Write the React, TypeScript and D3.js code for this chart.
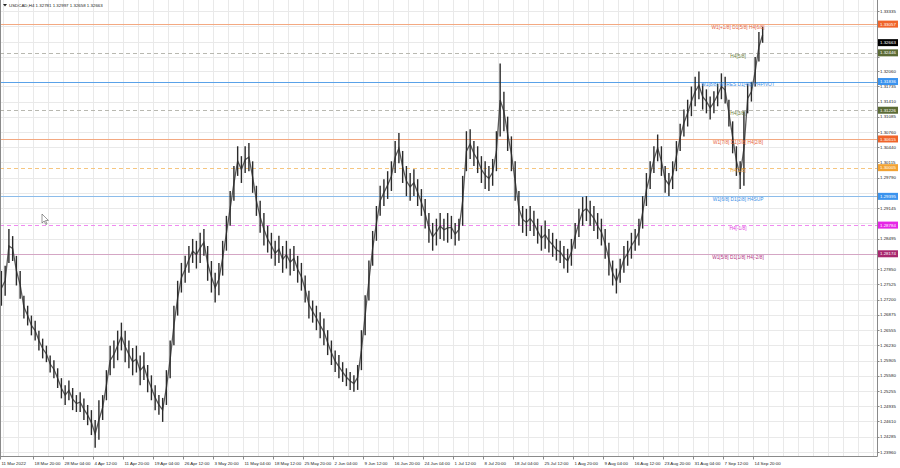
import React from "react";
import * as d3 from "d3";

const W = 900;
const H = 468;

// USDCAD H4, each entry aggregates four consecutive H4 bars (16 hours)
const highs = [
  1.2781, 1.2792, 1.2870, 1.2855, 1.2813, 1.2781, 1.2728, 1.2707, 1.2686, 1.2675,
  1.2654, 1.2637, 1.2622, 1.2601, 1.2591, 1.2574, 1.2553, 1.2538, 1.2548, 1.2532,
  1.2517, 1.2523, 1.2510, 1.2496, 1.2485, 1.2464, 1.2506, 1.2517, 1.2570, 1.2622,
  1.2633, 1.2654, 1.2671, 1.2654, 1.2633, 1.2617, 1.2622, 1.2601, 1.2608, 1.2581,
  1.2559, 1.2538, 1.2517, 1.2511, 1.2570, 1.2633, 1.2707, 1.2760, 1.2798, 1.2813,
  1.2834, 1.2849, 1.2845, 1.2862, 1.2870, 1.2834, 1.2802, 1.2777, 1.2798, 1.2845,
  1.2898, 1.2951, 1.3004, 1.3046, 1.3025, 1.3046, 1.3053, 1.3014, 1.2962, 1.2930,
  1.2904, 1.2877, 1.2862, 1.2845, 1.2856, 1.2834, 1.2845, 1.2828, 1.2834, 1.2813,
  1.2798, 1.2771, 1.2739, 1.2718, 1.2707, 1.2693, 1.2680, 1.2655, 1.2633, 1.2612,
  1.2602, 1.2587, 1.2574, 1.2566, 1.2559, 1.2581, 1.2655, 1.2729, 1.2803, 1.2866,
  1.2919, 1.2962, 1.2976, 1.2993, 1.3014, 1.3057, 1.3074, 1.3036, 1.3004, 1.2989,
  1.2997, 1.2976, 1.2955, 1.2934, 1.2904, 1.2883, 1.2892, 1.2904, 1.2892, 1.2904,
  1.2898, 1.2883, 1.2892, 1.2983, 1.3078, 1.3082, 1.3057, 1.3046, 1.3025, 1.3014,
  1.3004, 1.3019, 1.3078, 1.3222, 1.3162, 1.3109, 1.3067, 1.3014, 1.2951, 1.2919,
  1.2913, 1.2919, 1.2909, 1.2892, 1.2877, 1.2888, 1.2870, 1.2862, 1.2849, 1.2845,
  1.2834, 1.2828, 1.2849, 1.2883, 1.2913, 1.2938, 1.2940, 1.2930, 1.2919, 1.2904,
  1.2892, 1.2870, 1.2841, 1.2803, 1.2786, 1.2807, 1.2834, 1.2845, 1.2862, 1.2870,
  1.2892, 1.2940, 1.2989, 1.3014, 1.3046, 1.3071, 1.3046, 1.3004, 1.2989, 1.3014,
  1.3057, 1.3094, 1.3124, 1.3145, 1.3173, 1.3194, 1.3205, 1.3179, 1.3167, 1.3152,
  1.3163, 1.3179, 1.3201, 1.3194, 1.3145, 1.3099, 1.3046, 1.3014, 1.3120, 1.3179,
  1.3183, 1.3236, 1.3289, 1.3300,
];
const lows = [
  1.2707, 1.2728, 1.2798, 1.2802, 1.2750, 1.2722, 1.2680, 1.2665, 1.2644, 1.2633,
  1.2612, 1.2595, 1.2587, 1.2565, 1.2553, 1.2532, 1.2510, 1.2496, 1.2506, 1.2485,
  1.2481, 1.2481, 1.2464, 1.2453, 1.2432, 1.2405, 1.2422, 1.2464, 1.2506, 1.2559,
  1.2574, 1.2591, 1.2612, 1.2587, 1.2574, 1.2559, 1.2565, 1.2538, 1.2549, 1.2523,
  1.2506, 1.2485, 1.2475, 1.2460, 1.2496, 1.2553, 1.2623, 1.2686, 1.2735, 1.2756,
  1.2777, 1.2798, 1.2786, 1.2798, 1.2813, 1.2760, 1.2735, 1.2714, 1.2729, 1.2771,
  1.2824, 1.2877, 1.2930, 1.2983, 1.2968, 1.2989, 1.2993, 1.2947, 1.2898, 1.2862,
  1.2835, 1.2820, 1.2807, 1.2792, 1.2798, 1.2777, 1.2786, 1.2771, 1.2781, 1.2756,
  1.2739, 1.2714, 1.2680, 1.2671, 1.2655, 1.2638, 1.2623, 1.2602, 1.2581, 1.2566,
  1.2553, 1.2545, 1.2536, 1.2528, 1.2524, 1.2528, 1.2570, 1.2644, 1.2718, 1.2792,
  1.2845, 1.2898, 1.2919, 1.2934, 1.2951, 1.2989, 1.3010, 1.2968, 1.2940, 1.2930,
  1.2940, 1.2919, 1.2898, 1.2871, 1.2841, 1.2824, 1.2835, 1.2849, 1.2845, 1.2841,
  1.2849, 1.2835, 1.2845, 1.2877, 1.2993, 1.3019, 1.3004, 1.2989, 1.2968, 1.2955,
  1.2951, 1.2962, 1.2993, 1.3067, 1.3078, 1.3036, 1.2993, 1.2930, 1.2877, 1.2862,
  1.2855, 1.2866, 1.2855, 1.2839, 1.2824, 1.2828, 1.2820, 1.2811, 1.2803, 1.2798,
  1.2786, 1.2777, 1.2792, 1.2828, 1.2853, 1.2877, 1.2887, 1.2877, 1.2866, 1.2849,
  1.2835, 1.2807, 1.2771, 1.2750, 1.2733, 1.2756, 1.2777, 1.2792, 1.2807, 1.2824,
  1.2835, 1.2871, 1.2919, 1.2955, 1.2989, 1.3014, 1.2983, 1.2947, 1.2940, 1.2955,
  1.2993, 1.3036, 1.3067, 1.3088, 1.3110, 1.3131, 1.3146, 1.3124, 1.3116, 1.3103,
  1.3116, 1.3131, 1.3146, 1.3137, 1.3088, 1.3031, 1.2983, 1.2955, 1.2962, 1.3116,
  1.3141, 1.3173, 1.3226, 1.3266,
];
const H4_PER_POINT = 4;

const header = "USDCAD,H4  1.32781 1.32997 1.32658 1.32663";
const lastPrice = 1.32663;

const timeLabels = [
  "11 Mar 2022", "18 Mar 20:00", "28 Mar 04:00", "4 Apr 12:00", "11 Apr 20:00",
  "19 Apr 04:00", "26 Apr 12:00", "3 May 20:00", "11 May 04:00", "18 May 12:00",
  "25 May 20:00", "2 Jun 04:00", "9 Jun 12:00", "16 Jun 20:00", "24 Jun 04:00",
  "1 Jul 12:00", "8 Jul 20:00", "18 Jul 04:00", "25 Jul 12:00", "1 Aug 20:00",
  "9 Aug 04:00", "16 Aug 12:00", "23 Aug 20:00", "31 Aug 04:00", "7 Sep 12:00",
  "14 Sep 20:00",
];
// H4 bar index of each time label
const timeLabelBars = [
  0, 35, 67, 99, 131, 163, 195, 227, 259, 291, 323, 355, 387, 419, 451, 483, 515,
  547, 579, 611, 643, 675, 707, 739, 771, 803,
];

const priceTicks = [
  1.33335, 1.3301, 1.32685, 1.3236, 1.3206, 1.31735, 1.3141, 1.31085, 1.3076,
  1.3044, 1.30115, 1.2979, 1.29465, 1.29145, 1.2882, 1.28495, 1.2817, 1.2785,
  1.27525, 1.272, 1.26875, 1.26555, 1.2623, 1.25905, 1.2558, 1.25255, 1.24935,
  1.2461, 1.24285, 1.2396,
];

const levelPrices = [
  1.33057, 1.32446, 1.31836, 1.31226, 1.30615, 1.30005, 1.29395, 1.28784, 1.28174,
];
const levelNames = [
  "W1[+1/8] D1[5/8] H4[6/8]",
  "H4[5/8]",
  "W1[8/8] W1RES D1[4/8] H4PIVOT",
  "H4[3/8]",
  "W1[7/8] D1[3/8] H4[2/8]",
  "H4[1/8]",
  "W1[6/8] D1[2/8] H4SUP",
  "H4[-1/8]",
  "W1[5/8] D1[1/8] H4[-2/8]",
];

const levelStyle = [
  { line: "#f3a982", text: "#e8643a", box: "#f0642a", dash: "" },
  { line: "#b8b8b0", text: "#6b7d3a", box: "#5b6b35", dash: "4,3" },
  { line: "#5aa2e8", text: "#3a8ee6", box: "#3a93ee", dash: "" },
  { line: "#b8b8b0", text: "#6b7d3a", box: "#5b6b35", dash: "4,3" },
  { line: "#f3a982", text: "#e8643a", box: "#f0642a", dash: "" },
  { line: "#f6c680", text: "#e8a030", box: "#f2a232", dash: "4,3" },
  { line: "#8cbcea", text: "#3a8ee6", box: "#3a93ee", dash: "" },
  { line: "#f08af0", text: "#e040e0", box: "#e626e6", dash: "4,3" },
  { line: "#d4a6c4", text: "#b03080", box: "#a8286e", dash: "" },
];

const PLOT_R = 877.5;
const PLOT_B = 456.5;
const FONT = "'Liberation Sans', Arial, sans-serif";

export default function App() {
  const x = d3.scaleLinear().domain([0, 960]).range([0, 900]);
  const y = d3.scaleLinear().domain([1.2396, 1.3206]).range([452, 71]);

  const vGrid = d3.range(3, 936, 16);
  const bars = highs.map((h, i) => ({
    h,
    l: lows[i],
    cx: x(i * H4_PER_POINT + 1.5),
  }));

  // connecting path through bar midpoints
  const mid = d3
    .line<{ h: number; l: number; cx: number }>()
    .x((d) => d.cx)
    .y((d) => y((d.h + d.l) / 2));

  const boxYs = [...levelPrices, lastPrice].map((p) => y(p));
  const visibleTicks = priceTicks.filter(
    (t) => !boxYs.some((by) => Math.abs(by - y(t)) < 4.5)
  );

  return (
    <svg
      width={W}
      height={H}
      style={{ position: "absolute", left: 0, top: 0, background: "#fff" }}
      fontFamily={FONT}
    >
      <rect x={0} y={0} width={W} height={H} fill="#fff" />
      {/* grid */}
      <g stroke="#e9e9e9" strokeWidth={1}>
        {priceTicks.map((t, i) => (
          <line key={"h" + i} x1={0} x2={PLOT_R} y1={Math.round(y(t)) + 0.5} y2={Math.round(y(t)) + 0.5} />
        ))}
        {vGrid.map((v, i) => (
          <line key={"v" + i} x1={Math.round(x(v)) + 0.5} x2={Math.round(x(v)) + 0.5} y1={0} y2={PLOT_B} />
        ))}
      </g>

      {/* level lines */}
      {levelPrices.map((p, i) => (
        <line
          key={"lv" + i}
          x1={0}
          x2={PLOT_R}
          y1={Math.round(y(p)) + 0.5}
          y2={Math.round(y(p)) + 0.5}
          stroke={levelStyle[i].line}
          strokeWidth={1}
          strokeDasharray={levelStyle[i].dash}
        />
      ))}

      {/* price bars */}
      <path d={mid(bars) || ""} fill="none" stroke="#5a5a5a" strokeWidth={1.3} />
      <g stroke="#2a2a2a" strokeWidth={1.4}>
        {bars.map((b, i) => (
          <line key={"b" + i} x1={b.cx} x2={b.cx} y1={y(b.h)} y2={y(b.l)} />
        ))}
      </g>

      {/* level labels */}
      {levelPrices.map((p, i) => (
        <text
          key={"lt" + i}
          x={738}
          y={y(p) + 4.8}
          fontSize={4.8}
          textAnchor="middle"
          fill={levelStyle[i].text}
        >
          {levelNames[i]}
        </text>
      ))}

      {/* mouse cursor */}
      <path d="M42,214 L42,223 L44.2,221 L45.8,224.5 L47,224 L45.5,220.6 L48.4,220.4 Z" fill="#fff" stroke="#555" strokeWidth={0.6} />

      {/* frame */}
      <g stroke="#8a8a8a" strokeWidth={1}>
        <line x1={0.5} x2={0.5} y1={0} y2={PLOT_B} />
        <line x1={PLOT_R} x2={PLOT_R} y1={0} y2={PLOT_B} />
        <line x1={0} x2={PLOT_R} y1={PLOT_B} y2={PLOT_B} />
      </g>

      {/* price axis */}
      {priceTicks.map((t, i) => (
        <line key={"ptk" + i} x1={PLOT_R} x2={PLOT_R + 2} y1={Math.round(y(t)) + 0.5} y2={Math.round(y(t)) + 0.5} stroke="#8a8a8a" />
      ))}
      {visibleTicks.map((t, i) => (
        <text key={"pt" + i} x={880} y={y(t) + 1.6} fontSize={4.4} fill="#222">
          {t.toFixed(5)}
        </text>
      ))}
      {levelPrices.map((p, i) => (
        <g key={"bx" + i}>
          <rect x={878} y={y(p) - 3.5} width={20} height={7} fill={levelStyle[i].box} />
          <text x={880} y={y(p) + 1.6} fontSize={4.4} fill="#fff">
            {p.toFixed(5)}
          </text>
        </g>
      ))}
      <rect x={878} y={y(lastPrice) - 3.5} width={20} height={7} fill="#000" />
      <text x={880} y={y(lastPrice) + 1.6} fontSize={4.4} fill="#fff">
        {lastPrice.toFixed(5)}
      </text>

      {/* time axis */}
      {timeLabels.map((t, i) => {
        const tx = Math.round(x(timeLabelBars[i])) + 0.5;
        return (
          <g key={"tl" + i}>
            <line x1={tx} x2={tx} y1={PLOT_B} y2={PLOT_B + 3} stroke="#8a8a8a" />
            <text x={tx + 1} y={465} fontSize={4.4} fill="#222">
              {t}
            </text>
          </g>
        );
      })}

      {/* header */}
      <path d="M3,4 L7,4 L5,6.5 Z" fill="#222" />
      <text x={9} y={6.8} fontSize={4.4} fill="#222">
        {header}
      </text>
    </svg>
  );
}
